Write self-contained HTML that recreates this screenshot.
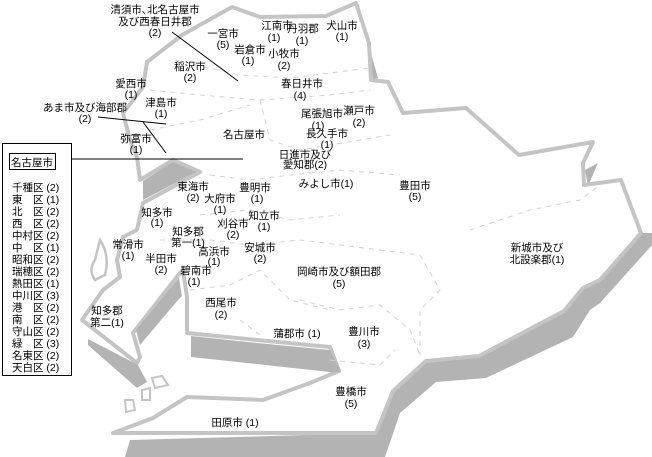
<!DOCTYPE html>
<html><head><meta charset="utf-8"><style>
html,body{margin:0;padding:0;background:#fff;}
svg{display:block}
text{font-family:"Liberation Sans","Noto Sans CJK JP",sans-serif;font-size:10.5px;fill:#000;text-anchor:middle}
.l{text-anchor:start}
</style></head><body>
<svg width="652" height="457" viewBox="0 0 652 457" xmlns="http://www.w3.org/2000/svg">
<rect width="652" height="457" fill="#fff"/>
<!-- shadows -->
<g fill="#b3b3b3">
<polygon points="641,233 600,280 583,288 564,311 479,356 426,361 393,391 376,433 130,440 125,457 385,457 400,413 436,382 486,378 573,337 590,310 600,303 652,245 652,233"/>
<polygon points="370,50 378,78 372,80"/>
<polygon points="585,170 598,163 588,186"/>
</g>
<!-- main outline -->
<polygon fill="#fff" stroke="#c4c4c4" stroke-width="4" stroke-linejoin="round" points="232,7 260,17 326,16 356,3 369,43 371,80 388,82 403,113 466,108 519,155 593,142 583,163 584,185 621,180 641,233 600,280 583,288 564,311 479,356 426,361 393,391 376,433 113,433 153,418 187,397 263,400 310,383 339,371 330,347 257,340 187,333 187,297 183,270 180,273 133,333 140,357 137,363 82,320 103,290 120,277 117,260 123,237 137,230 143,203 200,172 173,160 140,180 137,157 130,140 123,113 143,87 147,62 182,35"/>
<g fill="#b3b3b3">
<polygon points="143,181 173,162 196,172 143,200"/>
<polygon points="136,330 179,278 182,296 178,300 140,345"/>
<polygon points="191,336 257,343 330,350 341,372 341,372 330,372 191,357"/>
<polygon points="88,339 138,365 147,382 137,388 88,345"/>
</g>
<!-- islands -->
<path d="M100,240 Q110,255 105,275 L95,280 Q88,270 95,260 Z" fill="#fff" stroke="#c4c4c4" stroke-width="2.5"/>
<path d="M152,378 L162,376 L168,385 L155,388 Z M142,390 L150,388 L150,400 L142,400 Z M125,400 L133,400 L135,410 L126,412 Z" fill="#fff" stroke="#c4c4c4" stroke-width="2"/>
<!-- internal dashed boundaries -->
<g fill="none" stroke="#d2d2d2" stroke-width="1" stroke-dasharray="5,5">
<path d="M175,60 L240,75 L290,78 L370,68"/>
<path d="M150,90 L200,95 L260,100 L330,95 L370,90"/>
<path d="M260,100 L270,140 L300,150 L390,135"/>
<path d="M150,130 L200,120 L250,105"/>
<path d="M210,175 L250,180 L290,175 L340,170 L400,175"/>
<path d="M200,215 L250,210 L290,220 L340,215"/>
<path d="M160,240 L210,240 L250,245 L300,240 L380,250"/>
<path d="M190,290 L230,285 L260,270 L290,300 L330,310"/>
<path d="M380,250 L420,255 L440,290 L420,310 L420,355"/>
<path d="M300,300 L340,310 L380,305 L410,330 L420,355"/>
<path d="M330,360 L380,365 L395,350"/>
<path d="M470,230 L530,210 L580,200 L600,185"/>
<path d="M240,320 L260,335 L270,345"/>
</g>
<!-- leader lines -->
<g stroke="#000" stroke-width="1">
<line x1="172" y1="32" x2="238" y2="81"/>
<line x1="98" y1="117" x2="166" y2="124"/>
<line x1="143" y1="122" x2="166" y2="153"/>
<line x1="72" y1="159" x2="243" y2="159"/>
</g>
<!-- legend -->
<rect x="2.5" y="143.5" width="69" height="232" fill="#fff" stroke="#000"/>
<rect x="9.5" y="153.5" width="46" height="16" fill="#fff" stroke="#000"/>
<text x="32" y="166">名古屋市</text>
<text class="l" x="12" y="191">千種区 (2)</text>
<text class="l" x="12" y="203">東　区 (1)</text>
<text class="l" x="12" y="215">北　区 (2)</text>
<text class="l" x="12" y="227">西　区 (2)</text>
<text class="l" x="12" y="239">中村区 (2)</text>
<text class="l" x="12" y="251">中　区 (1)</text>
<text class="l" x="12" y="263">昭和区 (2)</text>
<text class="l" x="12" y="275">瑞穂区 (2)</text>
<text class="l" x="12" y="287">熱田区 (1)</text>
<text class="l" x="12" y="299">中川区 (3)</text>
<text class="l" x="12" y="311">港　区 (2)</text>
<text class="l" x="12" y="323">南　区 (2)</text>
<text class="l" x="12" y="335">守山区 (2)</text>
<text class="l" x="12" y="347">緑　区 (3)</text>
<text class="l" x="12" y="359">名東区 (2)</text>
<text class="l" x="12" y="371">天白区 (2)</text>
<!-- labels -->
<text x="155" y="13">清須市､北名古屋市</text><text x="155" y="25">及び西春日井郡</text><text x="155" y="36">(2)</text>
<text x="223" y="37">一宮市</text><text x="223" y="48">(5)</text>
<text x="277" y="29">江南市</text><text x="274" y="41">(1)</text>
<text x="303" y="32">丹羽郡</text><text x="302" y="44">(1)</text>
<text x="250" y="53">岩倉市</text><text x="248" y="64">(1)</text>
<text x="284" y="57">小牧市</text><text x="284" y="69">(2)</text>
<text x="342" y="29">犬山市</text><text x="342" y="40">(1)</text>
<text x="190" y="70">稲沢市</text><text x="190" y="81">(2)</text>
<text x="302" y="87">春日井市</text><text x="300" y="99">(4)</text>
<text x="131" y="87">愛西市</text><text x="131" y="98">(1)</text>
<text x="161" y="106">津島市</text><text x="161" y="117">(1)</text>
<text x="85" y="111">あま市及び海部郡</text><text x="85" y="122">(2)</text>
<text x="322" y="117">尾張旭市</text><text x="318" y="129">(1)</text>
<text x="359" y="114">瀬戸市</text><text x="359" y="126">(2)</text>
<text x="327" y="137">長久手市</text><text x="327" y="148">(1)</text>
<text x="136" y="142">弥富市</text><text x="136" y="153">(1)</text>
<text x="244" y="138">名古屋市</text>
<text x="305" y="158">日進市及び</text><text x="305" y="168">愛知郡(2)</text>
<text x="326" y="187">みよし市(1)</text>
<text x="415" y="189">豊田市</text><text x="415" y="200">(5)</text>
<text x="193" y="190">東海市</text><text x="193" y="201">(2)</text>
<text x="255" y="191">豊明市</text><text x="257" y="202">(1)</text>
<text x="220" y="202">大府市</text><text x="220" y="213">(1)</text>
<text x="157" y="216">知多市</text><text x="157" y="226">(1)</text>
<text x="264" y="219">知立市</text><text x="264" y="230">(1)</text>
<text x="233" y="227">刈谷市</text><text x="233" y="238">(2)</text>
<text x="188" y="235">知多郡</text><text x="188" y="246">第一(1)</text>
<text x="260" y="251">安城市</text><text x="260" y="262">(2)</text>
<text x="214" y="255">高浜市</text><text x="214" y="265">(1)</text>
<text x="128" y="248">常滑市</text><text x="128" y="259">(1)</text>
<text x="161" y="262">半田市</text><text x="161" y="273">(2)</text>
<text x="196" y="274">碧南市</text><text x="194" y="285">(1)</text>
<text x="339" y="275">岡崎市及び額田郡</text><text x="339" y="287">(5)</text>
<text x="537" y="251">新城市及び</text><text x="537" y="263">北設楽郡(1)</text>
<text x="221" y="306">西尾市</text><text x="221" y="318">(2)</text>
<text x="107" y="314">知多郡</text><text x="107" y="326">第二(1)</text>
<text x="297" y="337">蒲郡市 (1)</text>
<text x="364" y="335">豊川市</text><text x="364" y="347">(3)</text>
<text x="351" y="395">豊橋市</text><text x="351" y="407">(5)</text>
<text x="235" y="426">田原市 (1)</text>
</svg>
</body></html>
